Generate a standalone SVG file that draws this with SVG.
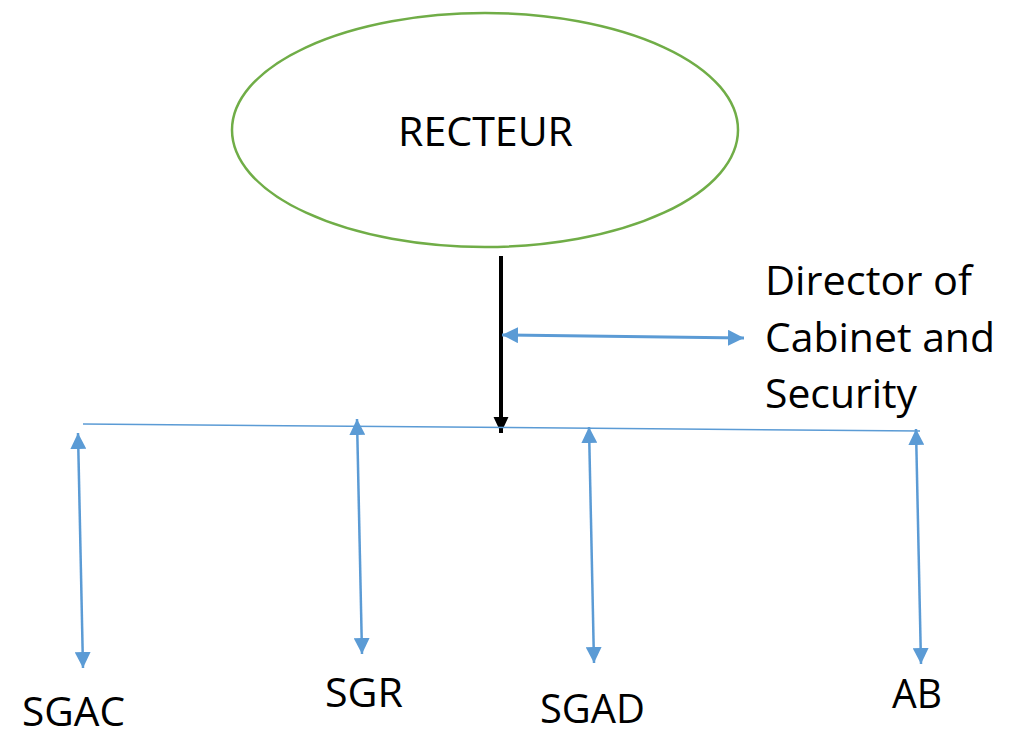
<svg xmlns="http://www.w3.org/2000/svg" width="1020" height="729" viewBox="0 0 1020 729">
<style>
.lbl{font-family:"Open Sans","Liberation Sans",sans-serif;font-size:40px;fill:#000}
.blue{stroke:#5B9BD5;fill:none}
</style>
<defs>
<marker id="ba" markerUnits="userSpaceOnUse" markerWidth="16" markerHeight="16" refX="15" refY="7.5" orient="auto-start-reverse" viewBox="0 0 15 15">
<path d="M0,0 L15,7.5 L0,15 z" fill="#5B9BD5"/>
</marker>
<marker id="ka" markerUnits="userSpaceOnUse" markerWidth="16" markerHeight="16" refX="15" refY="7" orient="auto" viewBox="0 0 15 14">
<path d="M0,0 L15,7 L0,14 z" fill="#000"/>
</marker>
</defs>
<rect width="1020" height="729" fill="#fff"/>
<g id="recteur">
<ellipse cx="485" cy="130" rx="253" ry="117" fill="#fff" stroke="#70AD47" stroke-width="2.5"/>
<text class="lbl" x="398" y="146" font-size="41" textLength="175" lengthAdjust="spacingAndGlyphs">RECTEUR</text>
</g>
<g id="connectors">
<line x1="501" y1="256" x2="501" y2="433" stroke="#000" stroke-width="4" marker-end="url(#ka)"/>
<line class="blue" x1="83" y1="424" x2="920" y2="431" stroke-width="1.5"/>
<line class="blue" x1="502" y1="335" x2="744" y2="338" stroke-width="3" marker-start="url(#ba)" marker-end="url(#ba)"/>
<line class="blue" x1="78" y1="433" x2="83" y2="668" stroke-width="2.5" marker-start="url(#ba)" marker-end="url(#ba)"/>
<line class="blue" x1="357" y1="419" x2="362" y2="654" stroke-width="2.5" marker-start="url(#ba)" marker-end="url(#ba)"/>
<line class="blue" x1="589" y1="427" x2="594" y2="663" stroke-width="2.5" marker-start="url(#ba)" marker-end="url(#ba)"/>
<line class="blue" x1="916" y1="429" x2="921" y2="664" stroke-width="2.5" marker-start="url(#ba)" marker-end="url(#ba)"/>
</g>
<g id="director">
<text class="lbl" x="765" y="295" textLength="207" lengthAdjust="spacingAndGlyphs">Director of</text>
<text class="lbl" x="765" y="352" textLength="230" lengthAdjust="spacingAndGlyphs">Cabinet and</text>
<text class="lbl" x="765" y="408" textLength="152" lengthAdjust="spacingAndGlyphs">Security</text>
</g>
<g id="sgac"><text class="lbl" x="22" y="726" textLength="103" lengthAdjust="spacingAndGlyphs">SGAC</text></g>
<g id="sgr"><text class="lbl" x="325" y="707" textLength="78" lengthAdjust="spacingAndGlyphs">SGR</text></g>
<g id="sgad"><text class="lbl" x="540" y="723" textLength="105" lengthAdjust="spacingAndGlyphs">SGAD</text></g>
<g id="ab"><text class="lbl" x="892" y="708" textLength="50" lengthAdjust="spacingAndGlyphs">AB</text></g>
</svg>
